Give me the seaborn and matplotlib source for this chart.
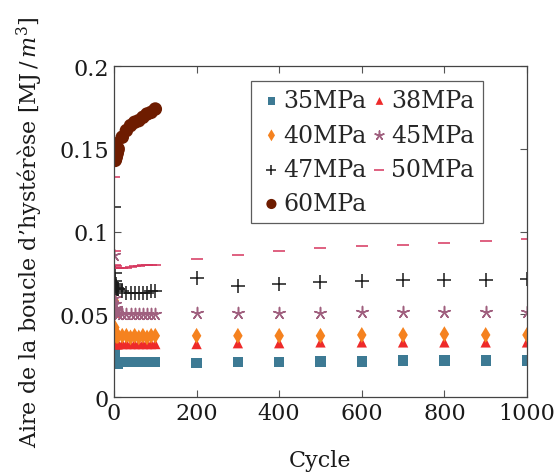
import matplotlib
matplotlib.use("Agg")
import matplotlib.pyplot as plt
import numpy as np
import pandas as pd
import seaborn as sns

# cycles: dense part (1..10, 20..100) then every 100 cycles
cycles_early = [1, 2, 3, 4, 5, 6, 7, 8, 9, 10, 20, 30, 40, 50, 60, 70, 80, 90, 100]
cycles_late = [200, 300, 400, 500, 600, 700, 800, 900, 1000]

mpa35 = [0.026, 0.021, 0.020, 0.020, 0.020, 0.020, 0.020, 0.020, 0.020, 0.020,
         0.021, 0.021, 0.021, 0.021, 0.021, 0.021, 0.021, 0.021, 0.021,
         0.0205, 0.021, 0.021, 0.0215, 0.0215, 0.022, 0.022, 0.022, 0.022]
mpa38 = [0.051, 0.034, 0.033, 0.032, 0.032, 0.032, 0.032, 0.032, 0.032, 0.032,
         0.032, 0.032, 0.032, 0.032, 0.032, 0.032, 0.032, 0.032, 0.032,
         0.032, 0.0325, 0.0325, 0.033, 0.033, 0.033, 0.033, 0.033, 0.033]
mpa40 = [0.058, 0.042, 0.039, 0.038, 0.037, 0.037, 0.037, 0.037, 0.037, 0.037,
         0.037, 0.037, 0.036, 0.037, 0.036, 0.037, 0.036, 0.037, 0.037,
         0.037, 0.037, 0.037, 0.037, 0.0375, 0.0375, 0.038, 0.0375, 0.0375]
mpa45 = [0.086, 0.060, 0.056, 0.054, 0.053, 0.052, 0.051, 0.051, 0.050, 0.050,
         0.050, 0.050, 0.050, 0.050, 0.050, 0.050, 0.050, 0.050, 0.050,
         0.0507, 0.051, 0.051, 0.051, 0.0512, 0.0512, 0.0513, 0.0513, 0.0513]
mpa47 = [0.115, 0.075, 0.070, 0.068, 0.067, 0.066, 0.066, 0.065, 0.065, 0.065,
         0.064, 0.063, 0.063, 0.063, 0.063, 0.063, 0.063, 0.064, 0.064,
         0.072, 0.067, 0.068, 0.0695, 0.070, 0.0705, 0.0705, 0.071, 0.0713]
mpa50 = [0.133, 0.088, 0.080, 0.079, 0.078, 0.078, 0.078, 0.078, 0.078, 0.078,
         0.078, 0.078, 0.0785, 0.079, 0.079, 0.0795, 0.0795, 0.080, 0.080,
         0.0833, 0.0858, 0.088, 0.0898, 0.0912, 0.092, 0.093, 0.0942, 0.0952]
mpa60 = [0.153, 0.145, 0.143, 0.144, 0.145, 0.146, 0.147, 0.148, 0.149, 0.150,
         0.157, 0.161, 0.164, 0.166, 0.167, 0.169, 0.171, 0.172, 0.174]

labels = ["35MPa", "38MPa", "40MPa", "45MPa", "47MPa", "50MPa", "60MPa"]
values = [mpa35, mpa38, mpa40, mpa45, mpa47, mpa50, mpa60]
colors = ["#3d7a94", "#ee2a2a", "#f5821f", "#a0607f", "#1a1a1a", "#d6365e", "#6e1c00"]
markers = ["s", "^", "d", (5, 2, 0), "+", "_", "o"]
sizes = [55, 55, 65, 75, 90, 80, 95]

frames = []
for lab, vals in zip(labels, values):
    cyc = (cycles_early + cycles_late)[:len(vals)]
    frames.append(pd.DataFrame({"Cycle": cyc, "Aire": vals, "serie": lab}))
df = pd.concat(frames, ignore_index=True)

sns.set_theme(style="ticks")
plt.rcParams["font.family"] = ["DejaVu Serif"]
plt.rcParams["mathtext.fontset"] = "dejavuserif"

fig = plt.figure(figsize=(5.55, 4.77), dpi=100)
ax = fig.add_axes([0.2054, 0.1656, 0.7441, 0.6939])

for lab, col, mk, sz in zip(labels, colors, markers, sizes):
    sub = df[df["serie"] == lab]
    filled = mk in ("s", "^", "d", "o")
    kw = dict(edgecolor="none") if filled else dict(linewidth=1.1)
    sns.scatterplot(data=sub, x="Cycle", y="Aire", marker=mk, color=col, s=sz,
                    ax=ax, label=lab, **kw)

ax.set_xlim(0, 1000)
ax.set_ylim(0, 0.2)
ax.set_xticks([0, 200, 400, 600, 800, 1000])
ax.set_yticks([0, 0.05, 0.1, 0.15, 0.2])
ax.set_yticklabels(["0", "0.05", "0.1", "0.15", "0.2"])
ax.tick_params(direction="in", length=5, width=0.8, colors="#555555",
               labelcolor="#1a1a1a", labelsize=16, top=True, right=True)
for sp in ax.spines.values():
    sp.set_color("#444444")
    sp.set_linewidth(0.9)

ax.set_xlabel("Cycle", fontsize=16, color="#1a1a1a", labelpad=18)
ax.set_ylabel("Aire de la boucle d\u2019hystérèse [MJ$\\,/\\,m^3$]", fontsize=16,
              color="#1a1a1a", labelpad=10)

# row-major order in a 2-column legend
handles, labs = ax.get_legend_handles_labels()
order = [0, 2, 4, 6, 1, 3, 5]
leg = ax.legend([handles[i] for i in order], [labs[i] for i in order],
                ncol=2, loc="upper right", bbox_to_anchor=(0.893, 0.955),
                fontsize=17, frameon=True, fancybox=False, handletextpad=0.0,
                columnspacing=0.05, borderpad=0.35, labelspacing=0.48,
                handlelength=1.0, borderaxespad=0.0, markerscale=0.75)
leg.get_frame().set_edgecolor("#333333")
leg.get_frame().set_linewidth(0.9)

fig.savefig("out.png", dpi=100)
